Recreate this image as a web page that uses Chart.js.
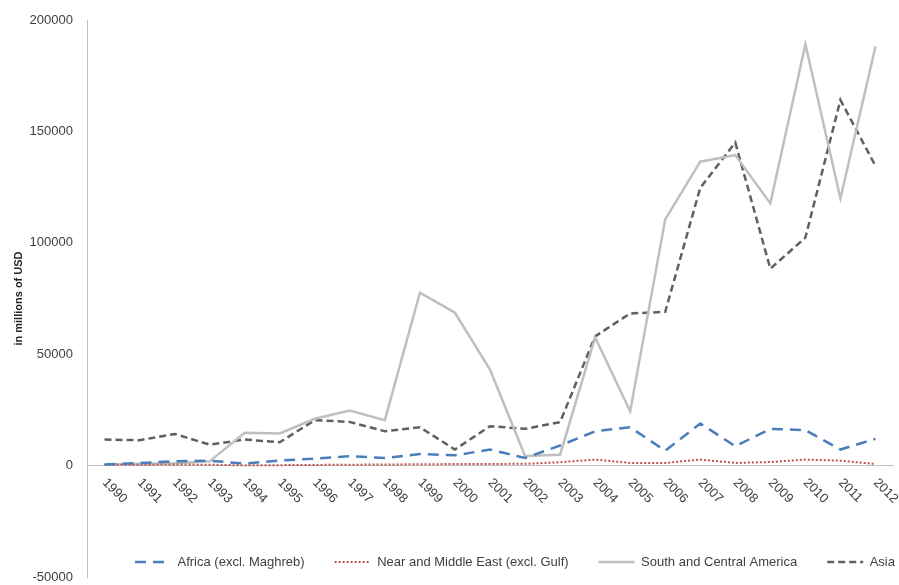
<!DOCTYPE html>
<html>
<head>
<meta charset="utf-8">
<script src="https://cdn.jsdelivr.net/npm/chart.js@4.4.1/dist/chart.umd.min.js"></script>
<style>
  body { margin: 0; background: #ffffff; }
  #wrap { width: 899px; height: 585px; position: relative; }
</style>
</head>
<body>
<div id="wrap"><canvas id="flowChart"></canvas></div>
<script>
const years = ["1990", "1991", "1992", "1993", "1994", "1995", "1996", "1997", "1998", "1999", "2000", "2001",
  "2002", "2003", "2004", "2005", "2006", "2007", "2008", "2009", "2010", "2011", "2012"];

const africa = [500, 1200, 1900, 2200, 900, 2300, 3100, 4200, 3400, 5200, 4600, 7200,
  3400, 9000, 15400, 17200, 6700, 18900, 8700, 16500, 15900, 7200, 12000];

const nearMiddleEast = [300, 400, 500, 400, 100, 200, 300, 400, 500, 600, 700, 750,
  800, 1500, 2700, 1200, 1200, 2700, 1200, 1600, 2700, 2200, 700];

const southCentralAmerica = [500, 800, 1000, 1900, 14700, 14400, 21000, 24700, 20400, 77600, 68600, 43100,
  4300, 4900, 57500, 24400, 110500, 136400, 139400, 117700, 189100, 119900, 188100];

const asia = [11700, 11400, 14200, 9400, 11700, 10500, 20400, 19600, 15400, 17200, 7200, 17700,
  16500, 19500, 58000, 68300, 69000, 124700, 145000, 88400, 102300, 164100, 134500];

const yMin = -50000;
const yMax = 200000;
const yStep = 50000;

Chart.defaults.font.family = '"Liberation Sans", Arial, sans-serif';
Chart.defaults.color = "#404040";

// tick labels of the x axis, slanted down to the right like in excel
const yearLabels = {
  id: "yearLabels",
  afterDraw(chart) {
    const { ctx } = chart;
    const x = chart.scales.x;
    const y0 = chart.scales.y.getPixelForValue(0);
    ctx.save();
    ctx.font = '13px "Liberation Sans", Arial, sans-serif';
    ctx.fillStyle = "#404040";
    ctx.textAlign = "left";
    ctx.textBaseline = "middle";
    years.forEach((label, i) => {
      ctx.save();
      ctx.translate(x.getPixelForValue(i), y0 + 15);
      ctx.rotate(Math.PI / 4);
      ctx.fillText(label, 0, 0);
      ctx.restore();
    });
    ctx.restore();
  },
};

// legend sits inside the plot, under the zero line
const legendInside = {
  id: "legendInside",
  beforeLayout(chart) {
    const legend = chart.legend;
    if (legend && !legend._squeezed) {
      const fit = legend.fit;
      legend.fit = function () {
        fit.call(this);
        this.height = 8;
      };
      legend._squeezed = true;
    }
  },
  afterLayout(chart) {
    const legend = chart.legend;
    const pad = legend.options.labels.padding;
    const h = legend.options.labels.font.size || 13;
    legend.top = chart.chartArea.bottom - 15 - pad - h / 2;
    legend.bottom = chart.height;
    legend.left = 135 - pad;
    legend.right = chart.width + 100;
  },
};

new Chart(document.getElementById("flowChart"), {
  type: "line",
  data: {
    labels: years,
    datasets: [
      {
        label: "Africa (excl. Maghreb)",
        data: africa,
        borderColor: "#4a7ebb",
        backgroundColor: "#4a7ebb",
        borderWidth: 2.5,
        borderDash: [11, 7],
      },
      {
        label: "Near and Middle East (excl. Gulf)",
        data: nearMiddleEast,
        borderColor: "#c0504d",
        backgroundColor: "#c0504d",
        borderWidth: 2,
        borderDash: [2, 2],
      },
      {
        label: "South and Central America",
        data: southCentralAmerica,
        borderColor: "#bfbfbf",
        backgroundColor: "#bfbfbf",
        borderWidth: 2.5,
      },
      {
        label: "Asia",
        data: asia,
        borderColor: "#606060",
        backgroundColor: "#606060",
        borderWidth: 2.5,
        borderDash: [7, 4],
      },
    ],
  },
  options: {
    responsive: true,
    maintainAspectRatio: false,
    animation: false,
    layout: { padding: { top: 20, right: 6, left: 0, bottom: 0 } },
    elements: {
      point: { radius: 0, hoverRadius: 0 },
      line: { tension: 0, fill: false, borderCapStyle: "butt" },
    },
    plugins: {
      tooltip: { enabled: false },
      legend: {
        position: "bottom",
        align: "start",
        labels: {
          usePointStyle: true,
          pointStyle: "line",
          pointStyleWidth: 36,
          padding: 30,
          color: "#404040",
          font: { size: 13 },
          generateLabels(chart) {
            const items = Chart.defaults.plugins.legend.labels.generateLabels(chart);
            items.forEach((item) => {
              const ds = chart.data.datasets[item.datasetIndex];
              item.lineDash = ds.borderDash || [];
              item.lineWidth = ds.borderWidth;
              item.strokeStyle = ds.borderColor;
            });
            return items;
          },
        },
      },
    },
    scales: {
      x: {
        type: "category",
        position: { y: 0 },
        offset: true,
        grid: { display: false, drawTicks: false },
        border: { color: "#bfbfbf", width: 1 },
        ticks: { display: false },
      },
      y: {
        min: yMin,
        max: yMax,
        grid: { display: false, drawTicks: false },
        border: { color: "#bfbfbf", width: 1 },
        ticks: {
          stepSize: yStep,
          padding: 14,
          color: "#404040",
          font: { size: 13 },
          callback: (v) => String(v),
        },
        title: {
          display: true,
          text: "in millions of USD",
          color: "#262626",
          font: { size: 11, weight: "bold" },
          padding: { top: 12, bottom: 0 },
        },
        afterFit(scale) {
          scale.width = 87;
          scale.paddingTop = 0;
          scale.paddingBottom = 0;
        },
      },
    },
  },
  plugins: [yearLabels, legendInside],
});
</script>
</body>
</html>
